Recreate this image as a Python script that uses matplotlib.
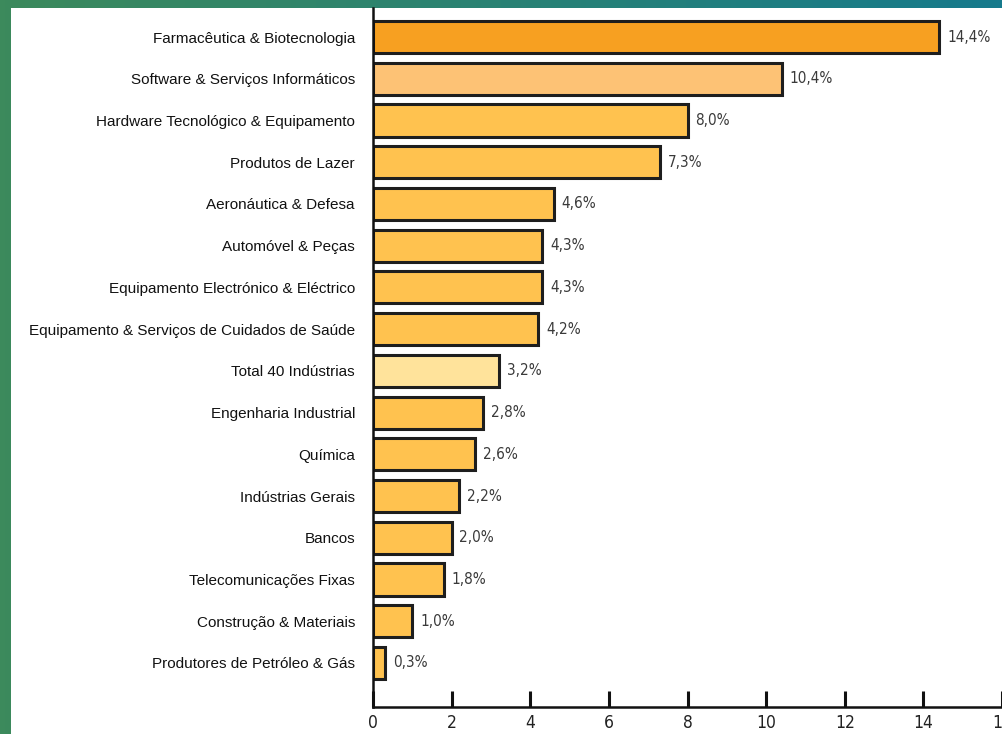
import matplotlib
matplotlib.use("Agg")
import matplotlib.pyplot as plt
import numpy as np
from matplotlib.patches import Rectangle

categories = [
    "Farmacêutica & Biotecnologia",
    "Software & Serviços Informáticos",
    "Hardware Tecnológico & Equipamento",
    "Produtos de Lazer",
    "Aeronáutica & Defesa",
    "Automóvel & Peças",
    "Equipamento Electrónico & Eléctrico",
    "Equipamento & Serviços de Cuidados de Saúde",
    "Total 40 Indústrias",
    "Engenharia Industrial",
    "Química",
    "Indústrias Gerais",
    "Bancos",
    "Telecomunicações Fixas",
    "Construção & Materiais",
    "Produtores de Petróleo & Gás",
]
values = [14.4, 10.4, 8.0, 7.3, 4.6, 4.3, 4.3, 4.2, 3.2, 2.8, 2.6, 2.2, 2.0, 1.8, 1.0, 0.3]
value_labels = ["14,4%", "10,4%", "8,0%", "7,3%", "4,6%", "4,3%", "4,3%", "4,2%",
                "3,2%", "2,8%", "2,6%", "2,2%", "2,0%", "1,8%", "1,0%", "0,3%"]
xticks = [0, 2, 4, 6, 8, 10, 12, 14, 16]

colors = ["#F7A021", "#FDC275"] + ["#FFC24F"] * 6 + ["#FFE39B"] + ["#FFC24F"] * 7

W, H = 1002, 734
fig = plt.figure(figsize=(W / 100, H / 100), dpi=100)

# background gradient (slide)
bg = fig.add_axes([0, 0, 1, 1])
bg.set_axis_off()
grad = np.zeros((50, 200, 3))
c1 = np.array([0x3c, 0x8a, 0x5c]) / 255
c2 = np.array([0x16, 0x7a, 0x8c]) / 255
for j in range(200):
    t = j / 199
    grad[:, j, :] = c1 * (1 - t) + c2 * t
bg.imshow(grad, extent=[0, 1, 0, 1], aspect="auto")
bg.add_patch(Rectangle((11 / W, 0), 1 - 11 / W, 1 - 8 / H, transform=bg.transAxes,
                       facecolor="white", edgecolor="none"))
bg.set_xlim(0, 1)
bg.set_ylim(0, 1)

left = 373 / W
bottom = 1 - 707 / H
top = 1 - 8 / H
ax = fig.add_axes([left, bottom, 1 - left, top - bottom])
ax.set_facecolor("none")

y = np.arange(len(categories))
ax.barh(y, values, height=0.77, color=colors, edgecolor="#1e1e1e", linewidth=2.2)

px_per_unit = 39.5
ax.set_xlim(0, (W - 373) / px_per_unit)
ax.set_ylim(15 + 44 / 41.73, -29 / 41.73)

for yi, v, lab in zip(y, values, value_labels):
    ax.text(v + 0.2, yi, lab, va="center", ha="left", fontsize=11,
            color="#3a3a3a", family="DejaVu Sans", fontstretch="condensed")

ax.set_yticks(y)
ax.set_yticklabels(categories, fontsize=11, family="Liberation Sans", color="#111111")
ax.tick_params(axis="y", length=0, pad=13)

ax.set_xticks(xticks)
ax.set_xticklabels([str(t) for t in xticks], fontsize=12.5, color="#222222")
for t in ax.get_xticklabels():
    t.set_family("DejaVu Sans")
    t.set_fontstretch("condensed")
ax.tick_params(axis="x", direction="in", length=11.5, width=2.2, color="#111111", pad=5)

for s in ["top", "right"]:
    ax.spines[s].set_visible(False)
for s in ["left", "bottom"]:
    ax.spines[s].set_linewidth(1.8)
    ax.spines[s].set_color("#111111")

fig.savefig("out.png", dpi=100)
